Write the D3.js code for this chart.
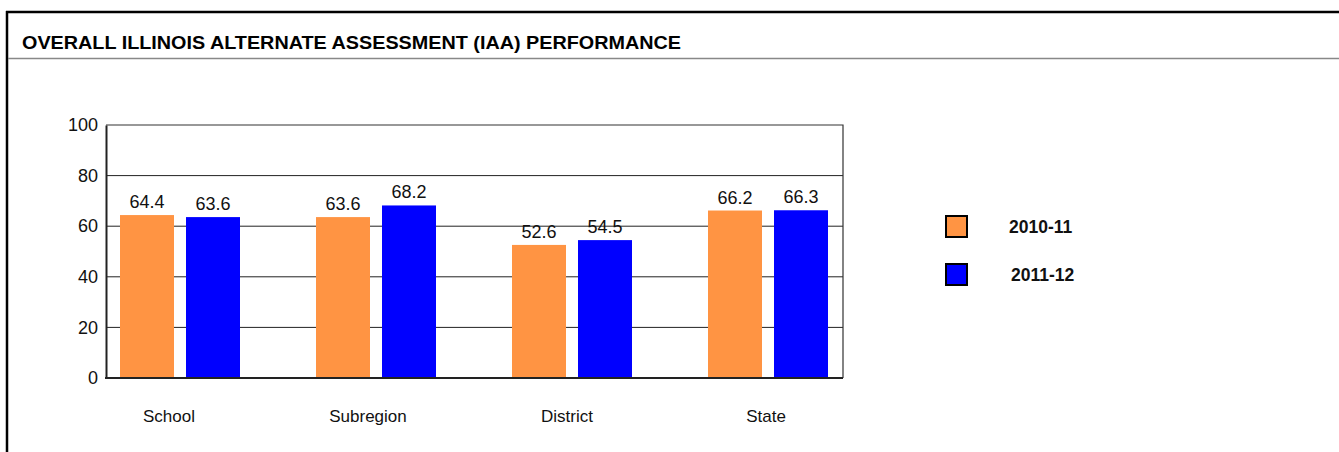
<!DOCTYPE html>
<html>
<head>
<meta charset="utf-8">
<script src="https://cdn.jsdelivr.net/npm/d3@7"></script>
<style>
  body { margin: 0; background: #fff; }
  svg { display: block; font-family: "Liberation Sans", Arial, sans-serif; }
</style>
</head>
<body>
<svg width="1339" height="452"></svg>
<script>
var categories = ["School", "Subregion", "District", "State"]
var series = ["2010-11", "2011-12"]
var values2010 = [64.4, 63.6, 52.6, 66.2]
var values2011 = [63.6, 68.2, 54.5, 66.3]
var yTicks = [0, 20, 40, 60, 80, 100]
var colors = ["#ff9443", "#0000ff"]

var svg = d3.select("svg")

// outer frame
svg.append("line").attr("x1", 6).attr("x2", 1339).attr("y1", 12).attr("y2", 12)
    .attr("stroke", "#000").attr("stroke-width", 2.5)
svg.append("line").attr("x1", 7).attr("x2", 7).attr("y1", 11).attr("y2", 452)
    .attr("stroke", "#000").attr("stroke-width", 2.5)
svg.append("line").attr("x1", 8).attr("x2", 1339).attr("y1", 58.5).attr("y2", 58.5)
    .attr("stroke", "#888").attr("stroke-width", 1.5)

svg.append("text")
    .attr("x", 22).attr("y", 49)
    .attr("font-family", "'Liberation Sans Narrow', 'Liberation Sans', Arial")
    .attr("font-weight", "bold")
    .attr("font-size", 18.5)
    .attr("textLength", 659)
    .attr("lengthAdjust", "spacingAndGlyphs")
    .text("OVERALL ILLINOIS ALTERNATE ASSESSMENT (IAA) PERFORMANCE")

var plotLeft = 106, plotRight = 843, plotTop = 125, plotBottom = 378

var y = d3.scaleLinear().domain([0, 100]).range([plotBottom, plotTop])
var x = d3.scalePoint().domain(categories).range([180, 768])
var xs = d3.scaleBand().domain(series).range([-60, 60]).paddingInner(12 / 66)
var xLabel = d3.scalePoint().domain(categories).range([169, 766])

// grid lines
svg.append("g").selectAll("line")
    .data(yTicks.filter(function (d) { return d > 0 && d < 100 }))
    .enter().append("line")
    .attr("x1", plotLeft).attr("x2", plotRight)
    .attr("y1", function (d) { return y(d) }).attr("y2", function (d) { return y(d) })
    .attr("stroke", "#222").attr("stroke-width", 1)

// plot box top / right
svg.append("path")
    .attr("d", "M" + plotLeft + "," + plotTop + "H" + plotRight + "V" + plotBottom)
    .attr("fill", "none").attr("stroke", "#333").attr("stroke-width", 1.2)

// bars
var data = []
categories.forEach(function (c, i) {
    data.push({ cat: c, s: series[0], v: values2010[i], col: colors[0] })
    data.push({ cat: c, s: series[1], v: values2011[i], col: colors[1] })
})

svg.append("g").selectAll("rect")
    .data(data).enter().append("rect")
    .attr("x", function (d) { return x(d.cat) + xs(d.s) })
    .attr("width", xs.bandwidth())
    .attr("y", function (d) { return y(d.v) })
    .attr("height", function (d) { return y(0) - y(d.v) })
    .attr("fill", function (d) { return d.col })

svg.append("g").selectAll("text")
    .data(data).enter().append("text")
    .attr("x", function (d) { return x(d.cat) + xs(d.s) + xs.bandwidth() / 2 })
    .attr("y", function (d) { return y(d.v) - 7 })
    .attr("text-anchor", "middle")
    .attr("font-size", 18)
    .attr("fill", "#111")
    .text(function (d) { return d.v.toFixed(1) })

// y axis
var yAxis = d3.axisLeft(y).tickValues(yTicks).tickSize(0).tickPadding(8)
var gy = svg.append("g").attr("transform", "translate(" + plotLeft + ",0)").call(yAxis)
gy.select(".domain").attr("stroke", "#222").attr("stroke-width", 2)
gy.selectAll("text").attr("font-size", 18).attr("fill", "#111")
    .attr("font-family", "'Liberation Sans', Arial")

// x baseline
svg.append("line").attr("x1", plotLeft - 1).attr("x2", plotRight).attr("y1", plotBottom).attr("y2", plotBottom)
    .attr("stroke", "#222").attr("stroke-width", 2)

// category labels
svg.append("g").selectAll("text")
    .data(categories).enter().append("text")
    .attr("x", function (d) { return xLabel(d) })
    .attr("y", 422)
    .attr("text-anchor", "middle")
    .attr("font-size", 17)
    .attr("fill", "#111")
    .text(function (d) { return d })

// legend
var legend = svg.append("g").selectAll("g")
    .data(series).enter().append("g")
    .attr("transform", function (d, i) { return "translate(946," + (216 + i * 48) + ")" })
legend.append("rect")
    .attr("width", 21).attr("height", 21)
    .attr("fill", function (d, i) { return colors[i] })
    .attr("stroke", "#000").attr("stroke-width", 2)
legend.append("text")
    .attr("x", function (d, i) { return 63 + i * 2 }).attr("y", 17)
    .attr("font-weight", "bold").attr("font-size", 17.5)
    .attr("fill", "#111")
    .text(function (d) { return d })
</script>
</body>
</html>
